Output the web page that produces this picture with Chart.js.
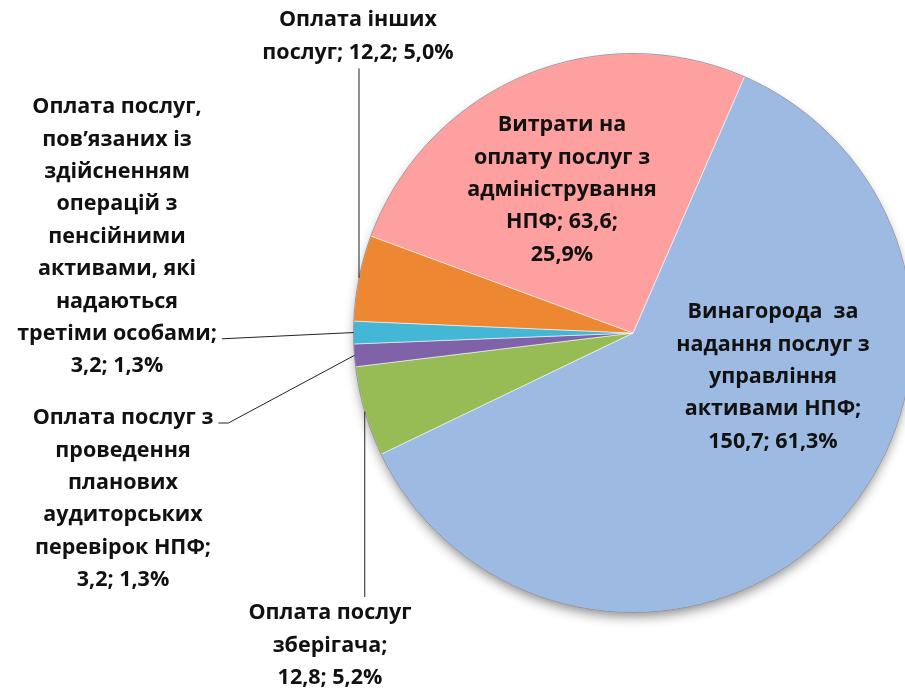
<!DOCTYPE html>
<html>
<head>
<meta charset="utf-8">
<script src="https://cdn.jsdelivr.net/npm/chart.js@4/dist/chart.umd.min.js"></script>
<style>
  html, body { margin: 0; padding: 0; overflow: hidden; background: #fff; }
  #wrap { position: absolute; left: 0; top: 0; width: 913px; height: 693px; }
</style>
</head>
<body>
<div id="wrap"><canvas id="myChart" width="913" height="693"></canvas></div>
<script>
// Дані (млн грн), за годинниковою стрілкою від межі синього сектора
const categories = [
    'Винагорода  за\nнадання послуг з\nуправління\nактивами НПФ',
    'Оплата послуг\nзберігача',
    'Оплата послуг з\nпроведення\nпланових\nаудиторських\nперевірок НПФ',
    'Оплата послуг,\nпов’язаних із\nздійсненням\nоперацій з\nпенсійними\nактивами, які\nнадаються\nтретіми особами',
    'Оплата інших\nпослуг',
    'Витрати на\nоплату послуг з\nадміністрування\nНПФ'
];
const values = [150.7, 12.8, 3.2, 3.2, 12.2, 63.6];
// роздільники між назвою, значенням і відсотком
const breaks = [['\n', ' '], ['\n', ' '], ['\n', ' '], ['\n', ' '], [' ', ' '], [' ', '\n']];
const colors = ['#9DBAE2', '#98BC55', '#7F62A8', '#45B7D6', '#EE8732', '#FFA0A0'];

// розміщення підписів: центр тексту, та чи є виносна лінія
const labelPos = [
    { x: 773, y: 312, line: null },
    { x: 330, y: 613, line: 'top' },
    { x: 123, y: 418, line: 'first' },
    { x: 117, y: 107, line: 'last' },
    { x: 358, y: 20, line: 'bottom' },
    { x: 562, y: 125, line: null }
];
const lineH = 32.4;

const total = values.reduce((a, b) => a + b, 0);
const fmt = v => v.toFixed(1).replace('.', ',');
const labelLines = categories.map((c, i) => {
    const pct = fmt(values[i] / total * 100) + '%';
    return (c + ';' + breaks[i][0] + fmt(values[i]) + ';' + breaks[i][1] + pct).split('\n');
});

const FONT = 'bold 21.5px "Open Sans", "DejaVu Sans", sans-serif';

const labelsPlugin = {
    id: 'pieLabels',
    beforeDatasetsDraw(chart) {
        const arc = chart.getDatasetMeta(0).data[0];
        const ctx = chart.ctx;
        ctx.save();
        ctx.shadowColor = 'rgba(0,0,0,0.45)';
        ctx.shadowBlur = 12;
        ctx.shadowOffsetY = 6;
        ctx.fillStyle = '#fff';
        ctx.beginPath();
        ctx.arc(arc.x, arc.y, arc.outerRadius - 2, 0, Math.PI * 2);
        ctx.fill();
        ctx.restore();
    },
    afterDatasetsDraw(chart) {
        const ctx = chart.ctx;
        const arcs = chart.getDatasetMeta(0).data;
        ctx.save();
        // обвідка круга
        ctx.strokeStyle = 'rgba(90,90,110,0.55)';
        ctx.lineWidth = 1;
        ctx.beginPath();
        ctx.arc(arcs[0].x, arcs[0].y, arcs[0].outerRadius, 0, Math.PI * 2);
        ctx.stroke();

        ctx.font = FONT;
        ctx.textAlign = 'center';
        ctx.textBaseline = 'middle';
        ctx.fillStyle = '#111';
        labelLines.forEach((lines, i) => {
            const p = labelPos[i];
            lines.forEach((t, k) => ctx.fillText(t, p.x, p.y + k * lineH));
            if (!p.line) return;
            const a = arcs[i];
            const mid = (a.startAngle + a.endAngle) / 2;
            const ex = a.x + Math.cos(mid) * a.outerRadius;
            const ey = a.y + Math.sin(mid) * a.outerRadius;
            let sx, sy;
            if (p.line === 'bottom') { sx = ex; sy = p.y + (lines.length - 1) * lineH + 16; }
            else if (p.line === 'top') { sx = ex; sy = p.y - 16; }
            else {
                const k = p.line === 'first' ? 0 : lines.length - 2;
                const w = ctx.measureText(lines[k]).width;
                sx = p.x + w / 2 + 5;
                sy = p.y + k * lineH + 5;
            }
            ctx.strokeStyle = '#222';
            ctx.lineWidth = 1;
            ctx.beginPath();
            ctx.moveTo(sx, sy);
            if (p.line === 'first') { ctx.lineTo(sx + 10, sy); }
            ctx.lineTo(ex, ey);
            ctx.stroke();
        });
        ctx.restore();
    }
};

new Chart(document.getElementById('myChart').getContext('2d'), {
    type: 'pie',
    data: {
        labels: categories,
        datasets: [{
            data: values,
            backgroundColor: colors,
            borderColor: 'rgba(255,255,255,0.55)',
            borderWidth: 1
        }]
    },
    options: {
        responsive: false,
        animation: false,
        rotation: 23.5,
        layout: { padding: { left: 353, top: 53, right: 0, bottom: 80 } },
        plugins: {
            legend: { display: false },
            tooltip: { enabled: false }
        }
    },
    plugins: [labelsPlugin]
});
</script>
</body>
</html>
